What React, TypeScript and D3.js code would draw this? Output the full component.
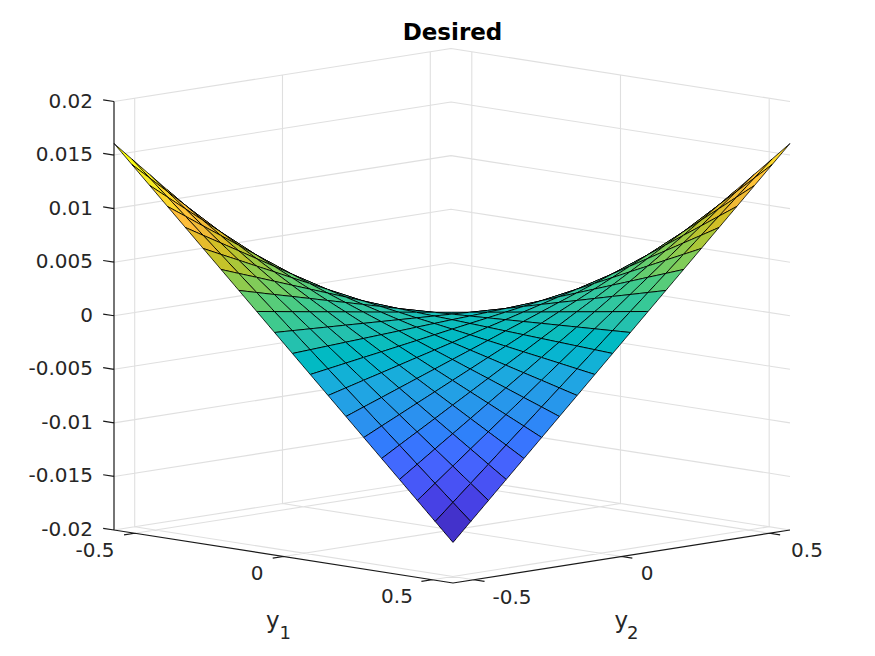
import * as d3 from "d3";

const title = "Desired";
const zTicks = [-0.02, -0.015, -0.01, -0.005, 0, 0.005, 0.01, 0.015, 0.02];
const zTickLabels = ["-0.02", "-0.015", "-0.01", "-0.005", "0", "0.005", "0.01", "0.015", "0.02"];
const yTicks = [-0.5, 0, 0.5];
const yTickLabels = ["-0.5", "0", "0.5"];
const yLimits = [-0.57, 0.57];
const zLimits = [-0.02, 0.02];

// mesh coordinates along y1 and y2
const meshY = [-0.57, -0.51, -0.45, -0.39, -0.33, -0.27, -0.21, -0.15, -0.09, -0.03, 0.03, 0.09, 0.15, 0.21, 0.27, 0.33, 0.39, 0.45, 0.51, 0.57];

// surface heights in units of 1e-4; rows follow y1, columns follow y2
const zRows = [
  [161.5, 144.5, 127.5, 110.5, 93.5, 76.5, 59.5, 42.5, 25.5, 8.5, -8.5, -25.5, -42.5, -59.5, -76.5, -93.5, -110.5, -127.5, -144.5, -161.5],
  [144.5, 129.3, 114.1, 98.9, 83.6, 68.4, 53.2, 38.0, 22.8, 7.6, -7.6, -22.8, -38.0, -53.2, -68.4, -83.6, -98.9, -114.1, -129.3, -144.5],
  [127.5, 114.1, 100.6, 87.2, 73.8, 60.4, 47.0, 33.5, 20.1, 6.7, -6.7, -20.1, -33.5, -47.0, -60.4, -73.8, -87.2, -100.6, -114.1, -127.5],
  [110.5, 98.9, 87.2, 75.6, 64.0, 52.3, 40.7, 29.1, 17.4, 5.8, -5.8, -17.4, -29.1, -40.7, -52.3, -64.0, -75.6, -87.2, -98.9, -110.5],
  [93.5, 83.6, 73.8, 64.0, 54.1, 44.3, 34.4, 24.6, 14.8, 4.9, -4.9, -14.8, -24.6, -34.4, -44.3, -54.1, -64.0, -73.8, -83.6, -93.5],
  [76.5, 68.4, 60.4, 52.3, 44.3, 36.2, 28.2, 20.1, 12.1, 4.0, -4.0, -12.1, -20.1, -28.2, -36.2, -44.3, -52.3, -60.4, -68.4, -76.5],
  [59.5, 53.2, 47.0, 40.7, 34.4, 28.2, 21.9, 15.7, 9.4, 3.1, -3.1, -9.4, -15.7, -21.9, -28.2, -34.4, -40.7, -47.0, -53.2, -59.5],
  [42.5, 38.0, 33.5, 29.1, 24.6, 20.1, 15.7, 11.2, 6.7, 2.2, -2.2, -6.7, -11.2, -15.7, -20.1, -24.6, -29.1, -33.5, -38.0, -42.5],
  [25.5, 22.8, 20.1, 17.4, 14.8, 12.1, 9.4, 6.7, 4.0, 1.3, -1.3, -4.0, -6.7, -9.4, -12.1, -14.8, -17.4, -20.1, -22.8, -25.5],
  [8.5, 7.6, 6.7, 5.8, 4.9, 4.0, 3.1, 2.2, 1.3, 0.4, -0.4, -1.3, -2.2, -3.1, -4.0, -4.9, -5.8, -6.7, -7.6, -8.5],
  [-8.5, -7.6, -6.7, -5.8, -4.9, -4.0, -3.1, -2.2, -1.3, -0.4, 0.4, 1.3, 2.2, 3.1, 4.0, 4.9, 5.8, 6.7, 7.6, 8.5],
  [-25.5, -22.8, -20.1, -17.4, -14.8, -12.1, -9.4, -6.7, -4.0, -1.3, 1.3, 4.0, 6.7, 9.4, 12.1, 14.8, 17.4, 20.1, 22.8, 25.5],
  [-42.5, -38.0, -33.5, -29.1, -24.6, -20.1, -15.7, -11.2, -6.7, -2.2, 2.2, 6.7, 11.2, 15.7, 20.1, 24.6, 29.1, 33.5, 38.0, 42.5],
  [-59.5, -53.2, -47.0, -40.7, -34.4, -28.2, -21.9, -15.7, -9.4, -3.1, 3.1, 9.4, 15.7, 21.9, 28.2, 34.4, 40.7, 47.0, 53.2, 59.5],
  [-76.5, -68.4, -60.4, -52.3, -44.3, -36.2, -28.2, -20.1, -12.1, -4.0, 4.0, 12.1, 20.1, 28.2, 36.2, 44.3, 52.3, 60.4, 68.4, 76.5],
  [-93.5, -83.6, -73.8, -64.0, -54.1, -44.3, -34.4, -24.6, -14.8, -4.9, 4.9, 14.8, 24.6, 34.4, 44.3, 54.1, 64.0, 73.8, 83.6, 93.5],
  [-110.5, -98.9, -87.2, -75.6, -64.0, -52.3, -40.7, -29.1, -17.4, -5.8, 5.8, 17.4, 29.1, 40.7, 52.3, 64.0, 75.6, 87.2, 98.9, 110.5],
  [-127.5, -114.1, -100.6, -87.2, -73.8, -60.4, -47.0, -33.5, -20.1, -6.7, 6.7, 20.1, 33.5, 47.0, 60.4, 73.8, 87.2, 100.6, 114.1, 127.5],
  [-144.5, -129.3, -114.1, -98.9, -83.6, -68.4, -53.2, -38.0, -22.8, -7.6, 7.6, 22.8, 38.0, 53.2, 68.4, 83.6, 98.9, 114.1, 129.3, 144.5],
  [-161.5, -144.5, -127.5, -110.5, -93.5, -76.5, -59.5, -42.5, -25.5, -8.5, 8.5, 25.5, 42.5, 59.5, 76.5, 93.5, 110.5, 127.5, 144.5, 161.5],
];
const zUnit = 1e-4;
const zBase = -0.7;

const parula = [
  [0.2422,0.1504,0.6603],[0.2504,0.165,0.7076],[0.2578,0.1818,0.7511],[0.2647,0.1978,0.7952],[0.2706,0.2147,0.8364],[0.2751,0.2342,0.871],[0.2783,0.2559,0.8991],[0.2803,0.2782,0.9221],
  [0.2813,0.3006,0.9414],[0.281,0.3228,0.9579],[0.2795,0.3447,0.9717],[0.276,0.3667,0.9829],[0.2699,0.3892,0.9906],[0.2602,0.4123,0.9952],[0.244,0.4358,0.9988],[0.2206,0.4603,0.9973],
  [0.1963,0.4847,0.9892],[0.1834,0.5074,0.9798],[0.1786,0.5289,0.9682],[0.1764,0.5499,0.952],[0.1687,0.5703,0.9359],[0.154,0.5902,0.9218],[0.146,0.6091,0.9079],[0.138,0.6276,0.8973],
  [0.1248,0.6459,0.8883],[0.1113,0.6635,0.8763],[0.0952,0.6798,0.8598],[0.0689,0.6948,0.8394],[0.0297,0.7082,0.8163],[0.0036,0.7203,0.7917],[0.0067,0.7312,0.766],[0.0433,0.7411,0.7394],
  [0.0964,0.75,0.712],[0.1408,0.7584,0.6842],[0.1717,0.767,0.6554],[0.1938,0.7758,0.6251],[0.2161,0.7843,0.5923],[0.247,0.7918,0.5567],[0.2906,0.7973,0.5188],[0.3406,0.8008,0.4789],
  [0.3909,0.8029,0.4354],[0.4456,0.8024,0.3909],[0.5044,0.7993,0.348],[0.5616,0.7942,0.3045],[0.6174,0.7876,0.2612],[0.672,0.7793,0.2227],[0.7242,0.7698,0.191],[0.7738,0.7598,0.1646],
  [0.8203,0.7498,0.1535],[0.8634,0.7406,0.1596],[0.9035,0.733,0.1774],[0.9393,0.7288,0.21],[0.9728,0.7298,0.2394],[0.9956,0.7434,0.2371],[0.997,0.7659,0.2199],[0.9952,0.7893,0.2028],
  [0.9892,0.8136,0.1885],[0.9786,0.8386,0.1766],[0.9676,0.8639,0.1643],[0.961,0.889,0.1537],[0.9597,0.9135,0.1423],[0.9628,0.9373,0.1265],[0.9691,0.9606,0.1064],[0.9769,0.9839,0.0805],
].map(([r, g, b]) => d3.rgb(r * 255, g * 255, b * 255).formatHex());

const W = 875;
const H = 656;
const INK = "#262626";
const FONT = "'DejaVu Sans', sans-serif";

// oblique box projection
const origin = { x: 114, y: 530 };
const y1Step = { x: 339, y: 53 };
const y2Step = { x: 337, y: -53 };
const norm = d3.scaleLinear().domain(yLimits).range([0, 1]);
const zPx = d3.scaleLinear().domain(zLimits).range([0, 428.5]);
const zNorm = d3.scaleLinear().domain(zLimits).range([0, 0.895]);
const tilt = 0.156;

function project(y1: number, y2: number, z: number): [number, number] {
  const a = norm(y1);
  const b = norm(y2);
  return [origin.x + y1Step.x * a + y2Step.x * b, origin.y + y1Step.y * a + y2Step.y * b - zPx(z)];
}
function depth(y1: number, y2: number, z: number) {
  return (Math.sqrt(1 - tilt * tilt) * (norm(y1) - norm(y2))) / Math.SQRT2 + tilt * zNorm(z);
}

const zVal = (i: number, j: number) => (zRows[i][j] + zBase) * zUnit;
const flat = zRows.flat().map((v) => (v + zBase) * zUnit);
const colour = d3.scaleQuantize<string>().domain(d3.extent(flat) as [number, number]).range(parula);

type Cell = { d: string; fill: string; depth: number };
const cells: Cell[] = [];
const line = d3.line();
for (let i = 0; i < meshY.length - 1; i++) {
  for (let j = 0; j < meshY.length - 1; j++) {
    const corners: [number, number][] = [[i, j], [i + 1, j], [i + 1, j + 1], [i, j + 1]];
    const pts = corners.map(([a, b]) => project(meshY[a], meshY[b], zVal(a, b)));
    cells.push({
      d: line(pts) + "Z",
      fill: colour(zVal(i, j)),
      depth: d3.mean(corners, ([a, b]) => depth(meshY[a], meshY[b], zVal(a, b))) as number,
    });
  }
}
cells.sort((p, q) => d3.ascending(p.depth, q.depth));

const [lo, hi] = yLimits;
const [zLo, zHi] = zLimits;

function seg(a: [number, number], b: [number, number]) {
  return `M${a[0]},${a[1]}L${b[0]},${b[1]}`;
}

const gridPath = [
  ...zTicks.map((z) => seg(project(lo, lo, z), project(lo, hi, z)) + seg(project(lo, hi, z), project(hi, hi, z))),
  ...yTicks.map((t) => seg(project(lo, t, zLo), project(lo, t, zHi))),
  ...yTicks.map((t) => seg(project(t, hi, zLo), project(t, hi, zHi))),
  ...yTicks.map((t) => seg(project(t, lo, zLo), project(t, hi, zLo))),
  ...yTicks.map((t) => seg(project(lo, t, zLo), project(hi, t, zLo))),
].join("");

const tickLen = 0.032;
const axisPath = [
  seg(project(lo, lo, zLo), project(lo, lo, zHi)),
  seg(project(lo, lo, zLo), project(hi, lo, zLo)),
  seg(project(hi, lo, zLo), project(hi, hi, zLo)),
  ...zTicks.map((z) => {
    const p = project(lo, lo, z);
    return seg(p, [p[0] - y1Step.x * tickLen, p[1] - y1Step.y * tickLen]);
  }),
  ...yTicks.map((t) => {
    const p = project(t, lo, zLo);
    return seg(p, [p[0] - y2Step.x * tickLen, p[1] - y2Step.y * tickLen]);
  }),
  ...yTicks.map((t) => {
    const p = project(hi, t, zLo);
    return seg(p, [p[0] + y1Step.x * tickLen, p[1] + y1Step.y * tickLen]);
  }),
].join("");

const y1LabelPos: [number, number][] = [[95, 550], [257, 573], [397, 596]];
const y2LabelPos: [number, number][] = [[512, 597], [647, 573], [807, 550]];

export default function App() {
  return (
    <svg
      width={W}
      height={H}
      viewBox={`0 0 ${W} ${H}`}
      style={{ position: "absolute", left: 0, top: 0, background: "#fff" }}
      fontFamily={FONT}
    >
      <path d={gridPath} fill="none" stroke={INK} strokeOpacity={0.15} strokeWidth={1.1} />
      <path d={axisPath} fill="none" stroke="#1a1a1a" strokeWidth={1.2} />
      <g stroke="#000" strokeWidth={0.8} strokeLinejoin="round">
        {cells.map((c, k) => (
          <path key={k} d={c.d} fill={c.fill} shapeRendering="crispEdges" />
        ))}
      </g>
      <g fill={INK} fontSize={20}>
        {zTicks.map((z, i) => (
          <text key={z} x={93} y={project(lo, lo, z)[1] - 1} textAnchor="end" dominantBaseline="central">
            {zTickLabels[i]}
          </text>
        ))}
        {yTicks.map((t, i) => (
          <text key={t} x={y1LabelPos[i][0]} y={y1LabelPos[i][1]} textAnchor="middle" dominantBaseline="central">
            {yTickLabels[i]}
          </text>
        ))}
        {yTicks.map((t, i) => (
          <text key={t} x={y2LabelPos[i][0]} y={y2LabelPos[i][1]} textAnchor="middle" dominantBaseline="central">
            {yTickLabels[i]}
          </text>
        ))}
      </g>
      <text x={452.5} y={39.5} textAnchor="middle" fontSize={23} fontWeight="bold" fill="#000">
        {title}
      </text>
      <g fill={INK}>
        <text x={266} y={628} fontSize={23}>y</text>
        <text x={279.5} y={639} fontSize={18}>1</text>
        <text x={614.5} y={628} fontSize={23}>y</text>
        <text x={627} y={639} fontSize={18}>2</text>
      </g>
    </svg>
  );
}
